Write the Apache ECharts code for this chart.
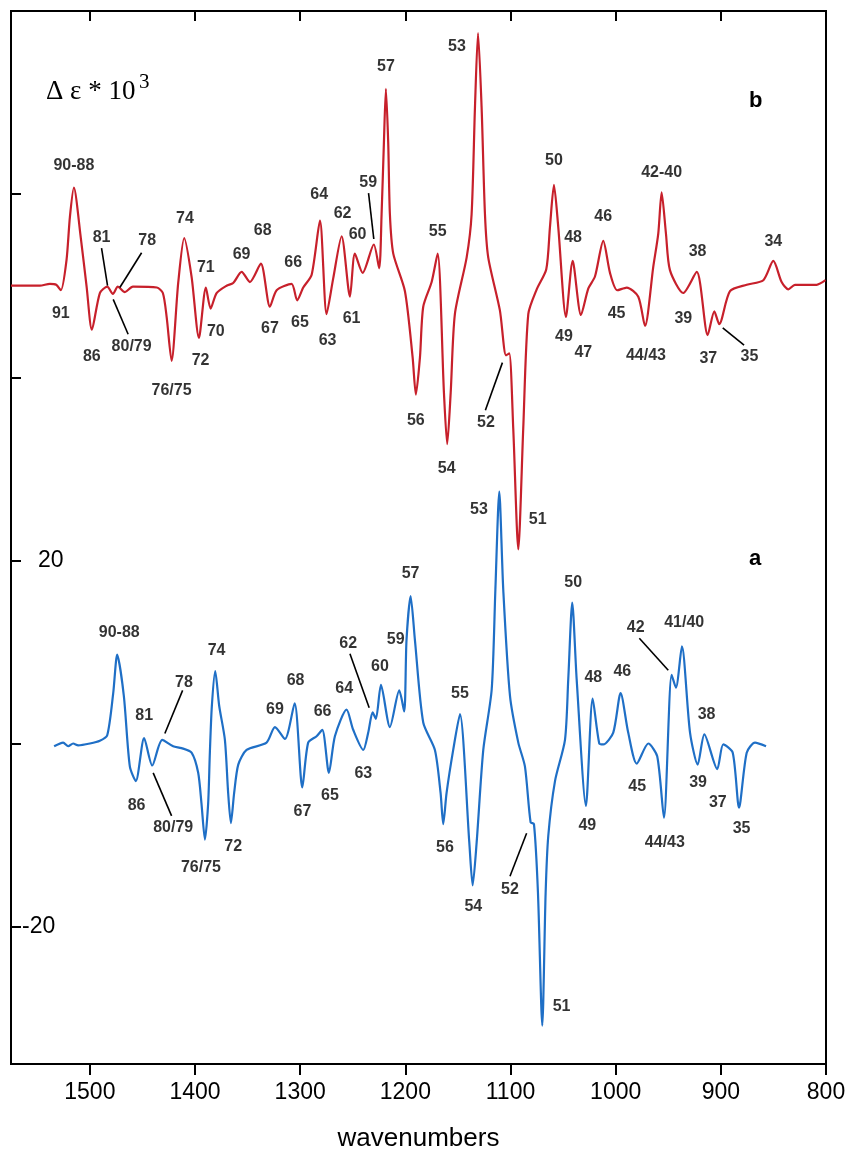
<!DOCTYPE html>
<html>
<head>
<meta charset="utf-8">
<script src="https://cdn.jsdelivr.net/npm/echarts@6/dist/echarts.min.js"></script>
<style>
  html, body { margin: 0; padding: 0; background: #fff; }
  #chart { width: 847px; height: 1154px; }
</style>
</head>
<body>
<div id="chart"></div>
<script>
// VCD spectra: trace b (red, shifted up) and trace a (blue)
const offsetB = 50;

const xTicks = [1500, 1400, 1300, 1200, 1100, 1000, 900, 800];
const yTicks = [-20, 0, 20, 40, 60];
const yTickLabels = [-20, 20];

// trace b: wavenumber, Δε·10³
const wnB = [1575, 1547.6, 1538, 1532, 1527.6, 1522.2, 1519.0, 1515.2, 1508.6, 1503.1, 1498.1, 1490.5, 1483.5, 1478.1, 1473.4, 1466.7, 1459.1, 1436.3, 1430.6, 1427, 1422.3, 1416, 1410.3, 1403.3, 1396.3, 1389.7, 1385.2, 1379.5, 1370, 1363.7, 1355.7, 1347.8, 1337.4, 1328.8, 1322.4, 1308.2, 1302.9, 1297.1, 1289.1, 1281.2, 1274.9, 1268.6, 1260.6, 1252.7, 1248, 1240.6, 1230, 1224.9, 1222.6, 1220.4, 1218.5, 1216.3, 1214.7, 1211.5, 1200.4, 1193.1, 1190, 1186.1, 1183, 1175, 1169.3, 1163.3, 1160.2, 1156.9, 1152.9, 1141.7, 1137.0, 1133.8, 1130.9, 1127.5, 1124.3, 1121.2, 1110.1, 1104.3, 1101.2, 1097.4, 1092.6, 1087.9, 1083.1, 1075.1, 1066, 1062.5, 1058.7, 1054.6, 1047.3, 1040.9, 1033, 1026, 1019.7, 1011.8, 1005.4, 998.5, 989.5, 978.5, 972.1, 964.2, 959.5, 956.3, 952.2, 948.4, 935.7, 922.9, 912.5, 906.2, 901.5, 891.3, 875.4, 859.6, 850.1, 842.2, 835.8, 829.5, 808.9, 800.5];
const valB = [0, 0, 0.2, 0.1, -0.5, 2.8, 7.5, 10.7, 5.2, -0.1, -4.8, -0.8, -0.1, -0.9, -0.1, -0.7, -0.1, -0.2, -0.8, -3.4, -8.2, 0.3, 5.2, 1.0, -5.7, -0.2, -2.5, -0.8, 0.0, 0.3, 1.5, 0.4, 2.4, -2.3, -0.5, 0.2, -1.6, -0.2, 1.2, 7.1, -3.1, 0.8, 5.4, -1.2, 3.5, 1.4, 4.5, 1.9, 7.8, 15.6, 21.5, 15.6, 7.8, 3.5, -0.6, -7.8, -11.9, -7.8, -2.3, 0.4, 3.5, -11.7, -17.3, -11.7, -3.1, 3.1, 7.8, 19.5, 27.6, 19.5, 7.8, 3.1, -2.7, -7.6, -7.4, -15.6, -28.8, -15.6, -3.1, -0.4, 1.8, 6.4, 11.0, 6.4, -3.4, 2.7, -3.2, -0.3, 1.0, 4.9, 1.4, -0.5, -0.2, -1.2, -4.4, 2.1, 5.7, 10.2, 5.7, 1.7, -0.8, 1.5, -5.4, -2.8, -4.2, -0.6, 0.1, 0.6, 2.7, 0.4, -0.4, 0.1, 0.1, 0.6];

// trace a: wavenumber, Δε·10³
const wnA = [1534, 1525.4, 1520.6, 1515.9, 1511.1, 1500, 1490.5, 1483.5, 1477.8, 1474, 1467.7, 1462, 1456.3, 1448.4, 1440.7, 1431.2, 1420.8, 1412.8, 1403.3, 1397, 1393.9, 1390.6, 1387.5, 1385.9, 1384, 1380.8, 1377, 1371.6, 1368.5, 1365.9, 1362.8, 1358.9, 1351, 1332, 1324, 1314.5, 1305.3, 1298, 1292.4, 1284.4, 1279, 1272.7, 1267, 1255.9, 1249.6, 1240, 1235.3, 1231.1, 1228, 1223.2, 1214.7, 1205.8, 1201.1, 1198.9, 1195, 1190.9, 1183, 1171.9, 1166.5, 1164, 1160.8, 1154.5, 1148.1, 1139.2, 1136, 1132.2, 1125.9, 1117.9, 1114.4, 1110.7, 1106.9, 1100.5, 1092.6, 1086.3, 1080.9, 1077.7, 1073.9, 1069.8, 1066.6, 1064.1, 1057.7, 1048.2, 1045.1, 1041.3, 1037.1, 1028.3, 1021.9, 1015.6, 1011.8, 1002.3, 995.3, 988.1, 980, 969, 960.5, 954.1, 946.8, 942.7, 937, 929.3, 922, 915.7, 903.4, 897.7, 888.7, 882.7, 875.4, 867.5, 857];
const valA = [-0.3, 0.1, -0.3, 0, -0.2, 0, 0.3, 0.9, 5.5, 9.7, 5.2, -2.5, -4.1, 0.6, -2.4, 0.4, -0.3, -0.5, -1.0, -3.2, -6.5, -10.5, -6.5, -1.0, 4.1, 7.9, 4.1, 0.4, -5.4, -8.7, -5.4, -2.3, -0.7, 0.1, 1.8, 0.5, 4.4, -4.8, 0.1, 0.8, 1.5, -3.2, 0.8, 3.7, 1.5, -0.7, 1.2, 3.4, 2.7, 6.4, 1.8, 5.8, 3.5, 11.3, 16.1, 11.3, 2.3, -0.7, -5.4, -8.8, -5.4, -0.7, 3.2, -10.8, -15.5, -10.8, -0.7, 5.9, 16.8, 27.5, 16.8, 5.2, 0.1, -2.5, -8.6, -8.8, -16.3, -30.8, -16.3, -10.1, -4.1, 0.4, 7.0, 15.4, 7.0, -6.8, 4.9, 0, -0.1, 1.2, 5.5, 1.2, -2.2, 0, -1.4, -8.1, 7.5, 6.1, 10.6, 1.2, -2.3, 1.0, -2.8, -0.1, -1.0, -7.0, -1.0, 0.1, -0.3];

// band assignments: [text, wavenumber, Δε·10³]
const labelsB = [["90-88",1515.2,13.1],["91",1527.6,-3.1],["86",1498.1,-7.7],["81",1488.9,5.2],["78",1445.5,4.9],["80/79",1460.3,-6.7],["76/75",1422.3,-11.5],["74",1409.6,7.3],["72",1394.7,-8.2],["71",1389.7,2.0],["70",1380.2,-5.0],["69",1355.7,3.4],["68",1335.7,6.0],["67",1328.8,-4.7],["66",1306.6,2.5],["65",1300.3,-4.0],["64",1281.9,9.9],["63",1274,-6.0],["62",1259.7,7.9],["61",1251.1,-3.6],["60",1245.4,5.6],["59",1235.3,11.3],["57",1218.5,23.9],["56",1190,-14.7],["55",1169.3,5.9],["54",1160.7,-20.0],["53",1150.9,26.1],["52",1123.3,-14.9],["51",1074.2,-25.5],["50",1058.7,13.7],["49",1049.2,-5.6],["48",1040.5,5.2],["47",1030.8,-7.3],["46",1011.8,7.6],["45",999.1,-3.0],["44/43",971.2,-7.6],["42-40",956.3,12.4],["39",935.7,-3.6],["38",922.1,3.7],["37",911.9,-8.0],["35",872.8,-7.7],["34",850.1,4.8]];
const labelsA = [["90-88",1472.1,12.1],["86",1455.6,-6.8],["81",1448.4,3.1],["78",1410.6,6.7],["80/79",1420.8,-9.2],["74",1379.5,10.1],["76/75",1394.4,-13.5],["72",1363.7,-11.3],["69",1324,3.7],["68",1304.4,6.9],["67",1297.8,-7.4],["66",1278.7,3.5],["65",1271.7,-5.7],["64",1258.2,6.0],["63",1240,-3.3],["62",1254.3,10.9],["60",1224.2,8.4],["59",1209.2,11.4],["57",1195,18.6],["56",1162.4,-11.4],["55",1148.1,5.5],["54",1135.4,-17.8],["53",1130,25.6],["52",1100.5,-16.0],["51",1051.4,-28.7],["50",1040.4,17.6],["49",1027,-9.0],["48",1021.3,7.2],["46",993.7,7.9],["45",979.5,-4.7],["44/43",953.2,-10.8],["42",981,12.7],["41/40",934.8,13.2],["39",921.6,-4.3],["38",913.6,3.2],["37",902.9,-6.5],["35",880.3,-9.3]];

// leader lines: [wn1, v1, wn2, v2]
const leadersB = [[1488.9,4.1,1483.2,0.0],[1450.8,3.6,1471.5,-0.2],[1477.8,-1.5,1463.6,-5.3],[1235,10.1,1230,5.1],[1107.7,-8.4,1123.9,-13.6],[898.2,-4.6,877.9,-6.5]];
const leadersA = [[1411.8,5.8,1428.7,1.1],[1439.8,-3.2,1422.3,-7.9],[1252.7,9.8,1234.4,3.9],[1084.7,-9.8,1100.5,-14.5],[977.5,11.5,950,8.0]];

const RED = '#c7202b';
const BLUE = '#1f6fc6';
const SANS = '"Liberation Sans", Arial, sans-serif';
const SERIF = '"Liberation Serif", "Times New Roman", serif';

const lineB = wnB.map((w, i) => [w, valB[i] + offsetB]);
const lineA = wnA.map((w, i) => [w, valA[i]]);
const textB = labelsB.map(d => [d[1], d[2] + offsetB, d[0]]);
const textA = labelsA.map(d => [d[1], d[2], d[0]]);
const segs = leadersB.map(l => ({ coords: [[l[0], l[1] + offsetB], [l[2], l[3] + offsetB]] }))
  .concat(leadersA.map(l => ({ coords: [[l[0], l[1]], [l[2], l[3]]] })));

const chart = echarts.init(document.getElementById('chart'), null, { renderer: 'canvas' });

const xCommon = {
  type: 'value', min: 800, max: 1575, inverse: true,
  splitLine: { show: false },
  axisLine: { show: true, onZero: false, lineStyle: { color: '#000', width: 2 } }
};

chart.setOption({
  animation: false,
  backgroundColor: '#fff',
  grid: {
    left: 11, right: 21, top: 11, bottom: 90,
    containLabel: false, outerBoundsMode: 'none',
    show: true, borderColor: '#000', borderWidth: 2
  },
  xAxis: [
    Object.assign({}, xCommon, {
      position: 'bottom',
      name: 'wavenumbers', nameLocation: 'middle', nameGap: 62,
      nameTextStyle: { fontFamily: SANS, fontSize: 26, color: '#000' },
      axisTick: { show: true, inside: false, length: 11, customValues: xTicks, lineStyle: { color: '#000', width: 2 } },
      axisLabel: { show: true, customValues: xTicks, margin: 17, fontFamily: SANS, fontSize: 23, color: '#000', formatter: v => String(v) }
    }),
    Object.assign({}, xCommon, {
      position: 'top',
      axisTick: { show: true, inside: true, length: 10, customValues: xTicks, lineStyle: { color: '#000', width: 2 } },
      axisLabel: { show: false }
    })
  ],
  yAxis: {
    type: 'value', min: -35, max: 80,
    splitLine: { show: false },
    axisLine: { show: true, onZero: false, lineStyle: { color: '#000', width: 2 } },
    axisTick: { show: true, inside: true, length: 10, customValues: yTicks, lineStyle: { color: '#000', width: 2 } },
    axisLabel: {
      show: true, inside: true, customValues: yTickLabels, margin: 11,
      fontFamily: SANS, fontSize: 23, color: '#000',
      formatter: v => v > 0 ? '{p|' + v + '}' : '{n|' + v + '}',
      rich: {
        p: { fontFamily: SANS, fontSize: 23, color: '#000', padding: [0, 0, 0, 16] },
        n: { fontFamily: SANS, fontSize: 23, color: '#000', padding: [0, 0, 0, 0] }
      }
    }
  },
  series: [
    {
      type: 'line', data: lineB, showSymbol: false, smooth: 0.25,
      lineStyle: { color: RED, width: 2.2 }, z: 3
    },
    {
      type: 'line', data: lineA, showSymbol: false, smooth: 0.25,
      lineStyle: { color: BLUE, width: 2.2 }, z: 3
    },
    {
      type: 'lines', coordinateSystem: 'cartesian2d', data: segs, silent: true,
      lineStyle: { color: '#000', width: 1.6, opacity: 1 }, z: 4
    },
    {
      type: 'scatter', data: textB.concat(textA), symbolSize: 0, silent: true, z: 5,
      label: {
        show: true, position: 'inside', formatter: p => p.value[2],
        fontFamily: SANS, fontWeight: 'bold', fontSize: 16, color: '#000'
      }
    }
  ],
  graphic: [
    { type: 'text', left: 46, top: 78, style: { text: 'Δ ε * 10', fontFamily: SERIF, fontSize: 27, fill: '#000' } },
    { type: 'text', left: 139, top: 72, style: { text: '3', fontFamily: SERIF, fontSize: 21, fill: '#000' } },
    { type: 'text', left: 749, top: 90, style: { text: 'b', fontFamily: SANS, fontWeight: 'bold', fontSize: 22, fill: '#000' } },
    { type: 'text', left: 749, top: 548, style: { text: 'a', fontFamily: SANS, fontWeight: 'bold', fontSize: 22, fill: '#000' } }
  ]
});
</script>
</body>
</html>
